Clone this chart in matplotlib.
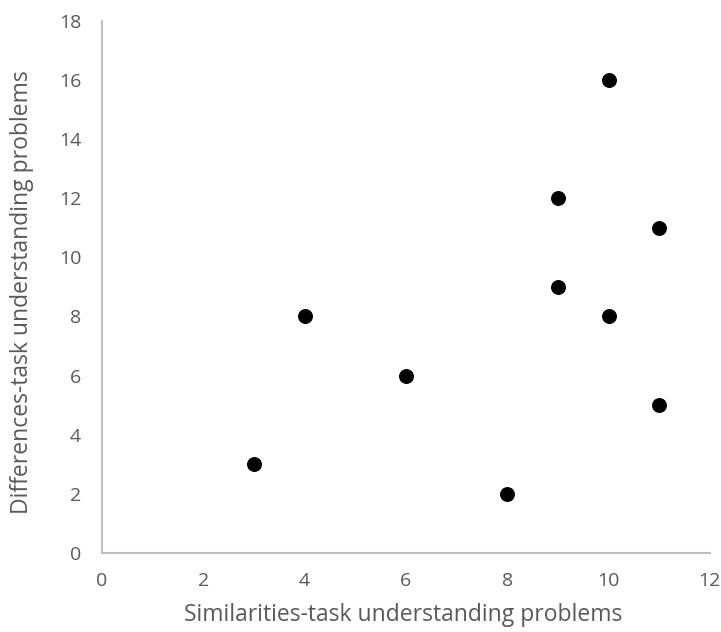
import matplotlib
matplotlib.use("Agg")
import matplotlib.pyplot as plt

similarities = [3, 4, 6, 8, 9, 9, 10, 10, 11, 11]
differences = [3, 8, 6, 2, 12, 9, 16, 8, 11, 5]

x_ticks = list(range(0, 13, 2))
y_ticks = list(range(0, 19, 2))

plt.rcParams['font.family'] = ['Open Sans', 'DejaVu Sans']
text_col = '#595959'
axis_col = '#BFBFBF'

fig = plt.figure(figsize=(7.21, 6.32), dpi=100)
ax = fig.add_axes([0.1415, 0.125, 0.843, 0.842])

ax.scatter(similarities, differences, s=95, color='black', zorder=3)

ax.set_xlim(0, 12)
ax.set_ylim(0, 18)
ax.set_xticks(x_ticks)
ax.set_yticks(y_ticks)

for side in ['top', 'right']:
    ax.spines[side].set_visible(False)
for side in ['left', 'bottom']:
    ax.spines[side].set_color(axis_col)
    ax.spines[side].set_linewidth(1.5)

ax.tick_params(length=0, labelsize=14, colors=text_col)
ax.tick_params(axis='x', pad=14)
ax.tick_params(axis='y', pad=15)
ax.set_xlabel('Similarities-task understanding problems', fontsize=16.5, color=text_col, va='center')
ax.set_ylabel('Differences-task understanding problems', fontsize=16.5, color=text_col, va='center')
ax.xaxis.set_label_coords(403 / 721, 1 - 615 / 632, transform=fig.transFigure)
ax.yaxis.set_label_coords(22 / 721, 1 - 292 / 632, transform=fig.transFigure)

fig.savefig('out.png', dpi=100)
